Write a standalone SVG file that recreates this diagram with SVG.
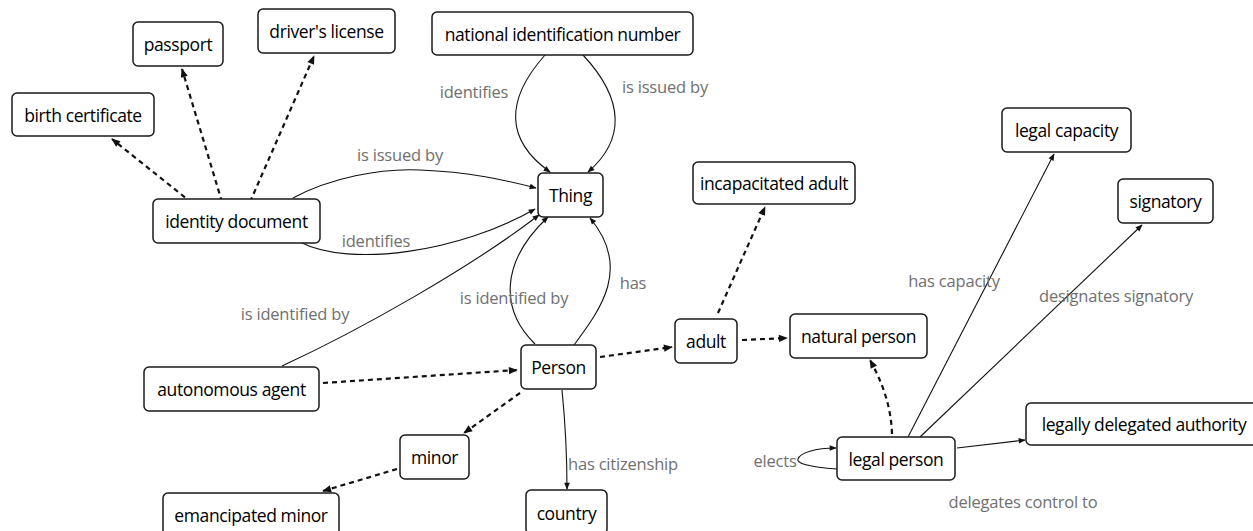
<svg xmlns="http://www.w3.org/2000/svg" width="1253" height="531" viewBox="0 0 1253 531">
  <style>
    .node rect { fill: #ffffff; stroke: #1a1a1a; stroke-width: 1.5; }
    .node text { font-family: "Open Sans", "Liberation Sans", sans-serif; font-size: 17.5px; fill: #000000; text-anchor: middle; dominant-baseline: central; letter-spacing: -0.4px; }
    .edge { fill: none; stroke: #111111; stroke-width: 1.1; }
    .sub { fill: none; stroke: #111111; stroke-width: 2.2; stroke-dasharray: 5 4; }
    .lbl { font-family: "Open Sans", "Liberation Sans", sans-serif; font-size: 16.5px; fill: #707070; text-anchor: middle; dominant-baseline: central; letter-spacing: -0.2px; }
  </style>
  <defs>
    <marker id="arr" viewBox="0 0 10 10" refX="9" refY="5" markerWidth="9" markerHeight="7" markerUnits="userSpaceOnUse" orient="auto">
      <path d="M0,1 L10,5 L0,9 Z" fill="#111111"/>
    </marker>
    <marker id="arrSub" viewBox="0 0 10 10" refX="9" refY="5" markerWidth="11" markerHeight="9" markerUnits="userSpaceOnUse" orient="auto">
      <path d="M0,1 L10,5 L0,9 Z" fill="#111111"/>
    </marker>
  </defs>

  <g id="connectors">
    <!-- subclass links (dashed) -->
    <path class="sub" d="M192,203 L112,139" marker-end="url(#arrSub)"/>
    <path class="sub" d="M222,202 L182,69" marker-end="url(#arrSub)"/>
    <path class="sub" d="M250,202 L314,56" marker-end="url(#arrSub)"/>
    <path class="sub" d="M323,383 L517,370" marker-end="url(#arrSub)"/>
    <path class="sub" d="M520,393 L464,433" marker-end="url(#arrSub)"/>
    <path class="sub" d="M397,469 L323,491" marker-end="url(#arrSub)"/>
    <path class="sub" d="M600,357 L672,347" marker-end="url(#arrSub)"/>
    <path class="sub" d="M718,313 L765,207" marker-end="url(#arrSub)"/>
    <path class="sub" d="M742,340 L787,338" marker-end="url(#arrSub)"/>
    <path class="sub" d="M892,434 C 891,405 882,382 870,360" marker-end="url(#arrSub)"/>

    <!-- object properties (solid) -->
    <path class="edge" d="M293,198 C 330,178 380,168 420,170 C 470,172 505,180 536,188" marker-end="url(#arr)"/>
    <path class="edge" d="M300,242 C 350,268 460,252 535,209" marker-end="url(#arr)"/>
    <path class="edge" d="M282,366 C 360,330 470,268 539,215" marker-end="url(#arr)"/>
    <path class="edge" d="M545,55 C 505,100 505,140 550,172" marker-end="url(#arr)"/>
    <path class="edge" d="M583,55 C 625,100 625,140 588,172" marker-end="url(#arr)"/>
    <path class="edge" d="M535,344 C 500,310 500,262 548,217" marker-end="url(#arr)"/>
    <path class="edge" d="M574,345 C 600,310 632,268 590,218" marker-end="url(#arr)"/>
    <path class="edge" d="M562,390 C 566,430 567,460 567,489" marker-end="url(#arr)"/>
    <path class="edge" d="M908,437 L1054,154" marker-end="url(#arr)"/>
    <path class="edge" d="M920,437 L1142,225" marker-end="url(#arr)"/>
    <path class="edge" d="M957,448 L1025,440" marker-end="url(#arr)"/>
    <path class="edge" d="M837,469 C 808,467 796,463 798,459 C 800,453 815,448 836,448" marker-end="url(#arr)"/>

    <!-- property labels -->
    <text class="lbl" x="400" y="154">is issued by</text>
    <text class="lbl" x="376" y="240">identifies</text>
    <text class="lbl" x="474" y="91">identifies</text>
    <text class="lbl" x="665" y="86">is issued by</text>
    <text class="lbl" x="295" y="313">is identified by</text>
    <text class="lbl" x="514" y="297">is identified by</text>
    <text class="lbl" x="633" y="282">has</text>
    <text class="lbl" x="623" y="463">has citizenship</text>
    <text class="lbl" x="954" y="280">has capacity</text>
    <text class="lbl" x="1116" y="295">designates signatory</text>
    <text class="lbl" x="775" y="460">elects</text>
    <text class="lbl" x="1023" y="501">delegates control to</text>
  </g>

  <g id="birth-certificate" class="node"><rect x="12" y="93" width="142" height="43" rx="5"/><text x="83" y="114.5">birth certificate</text></g>
  <g id="passport" class="node"><rect x="133" y="22" width="90" height="44" rx="5"/><text x="178" y="44">passport</text></g>
  <g id="drivers-license" class="node"><rect x="258" y="9" width="137" height="44" rx="5"/><text x="326.5" y="31">driver's license</text></g>
  <g id="national-identification-number" class="node"><rect x="432" y="12" width="261" height="43" rx="5"/><text x="562.5" y="33.5">national identification number</text></g>
  <g id="thing" class="node"><rect x="538" y="173" width="65" height="44" rx="5"/><text x="570.5" y="195">Thing</text></g>
  <g id="identity-document" class="node"><rect x="153" y="199" width="167" height="44" rx="5"/><text x="236.5" y="221">identity document</text></g>
  <g id="incapacitated-adult" class="node"><rect x="693" y="162" width="162" height="42" rx="5"/><text x="774" y="183">incapacitated adult</text></g>
  <g id="legal-capacity" class="node"><rect x="1002" y="108" width="129" height="44" rx="5"/><text x="1066.5" y="130">legal capacity</text></g>
  <g id="signatory" class="node"><rect x="1118" y="179" width="95" height="44" rx="5"/><text x="1165.5" y="201">signatory</text></g>
  <g id="autonomous-agent" class="node"><rect x="144" y="367" width="175" height="44" rx="5"/><text x="231.5" y="389">autonomous agent</text></g>
  <g id="person" class="node"><rect x="521" y="345" width="75" height="44" rx="5"/><text x="558.5" y="367">Person</text></g>
  <g id="adult" class="node"><rect x="675" y="319" width="62" height="44" rx="5"/><text x="706" y="341">adult</text></g>
  <g id="natural-person" class="node"><rect x="790" y="314" width="137" height="44" rx="5"/><text x="858.5" y="336">natural person</text></g>
  <g id="minor" class="node"><rect x="400" y="435" width="69" height="44" rx="5"/><text x="434.5" y="457">minor</text></g>
  <g id="emancipated-minor" class="node"><rect x="163" y="493" width="176" height="44" rx="5"/><text x="251" y="515">emancipated minor</text></g>
  <g id="country" class="node"><rect x="526" y="490" width="81" height="44" rx="5"/><text x="566.5" y="513">country</text></g>
  <g id="legal-person" class="node"><rect x="837" y="437" width="118" height="43" rx="5"/><text x="896" y="458.5">legal person</text></g>
  <g id="legally-delegated-authority" class="node"><rect x="1026" y="403" width="234" height="42" rx="5"/><text x="1144" y="424">legally delegated authority</text></g>
</svg>
